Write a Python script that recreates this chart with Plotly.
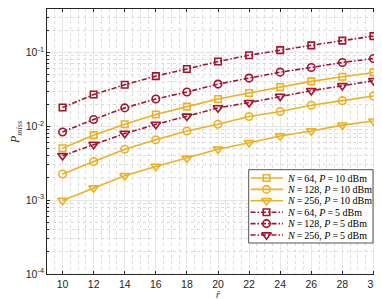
import plotly.graph_objects as go

r_bar = [10, 12, 14, 16, 18, 20, 22, 24, 26, 28, 30]

n64_p10 = [0.00505, 0.0076, 0.0107, 0.0145, 0.0185, 0.0235, 0.0283, 0.0341, 0.0407, 0.047, 0.0538]
n128_p10 = [0.00226, 0.00334, 0.0049, 0.0066, 0.00865, 0.0107, 0.0136, 0.0159, 0.0193, 0.0223, 0.0258]
n256_p10 = [0.00099, 0.00146, 0.00214, 0.00286, 0.0037, 0.0049, 0.006, 0.0074, 0.00865, 0.0104, 0.0118]
n64_p5 = [0.018, 0.027, 0.0366, 0.048, 0.060, 0.0756, 0.092, 0.108, 0.125, 0.145, 0.167]
n128_p5 = [0.0084, 0.0124, 0.0178, 0.0235, 0.0292, 0.0374, 0.0451, 0.0543, 0.0628, 0.0733, 0.083]
n256_p5 = [0.0040, 0.0057, 0.0080, 0.0106, 0.0137, 0.0178, 0.021, 0.0255, 0.0304, 0.0355, 0.0415]

T = "\u2009"
names = [
    f"<i>N</i>{T}={T}64, <i>P</i>{T}={T}10 dBm",
    f"<i>N</i>{T}={T}128, <i>P</i>{T}={T}10 dBm",
    f"<i>N</i>{T}={T}256, <i>P</i>{T}={T}10 dBm",
    f"<i>N</i>{T}={T}64, <i>P</i>{T}={T}5 dBm",
    f"<i>N</i>{T}={T}128, <i>P</i>{T}={T}5 dBm",
    f"<i>N</i>{T}={T}256, <i>P</i>{T}={T}5 dBm",
]
series = [n64_p10, n128_p10, n256_p10, n64_p5, n128_p5, n256_p5]
symbols = ["square-open", "circle-open", "triangle-down-open"] * 2
sizes = [6.5, 7.5, 8.5] * 2
YELLOW = "#EDB120"
RED = "#A2142F"
colors = [YELLOW] * 3 + [RED] * 3
dashes = ["solid"] * 3 + ["5px,2px,1.5px,2px"] * 3
AX = "#262626"
SERIF = "Liberation Serif, DejaVu Serif"

# plot-area geometry in pixels (for placing the hand-made legend)
W, H = 382, 299
ML, MR, MT, MB = 39, 1, 1, 33
PW, PH = W - ML - MR, H - MT - MB


def fx(px):
    return (px - ML) / PW


def fy(py):
    return (H - MB - py) / PH


fig = go.Figure()
for name, ys, sym, sz, col, dash in zip(names, series, symbols, sizes, colors, dashes):
    fig.add_trace(go.Scatter(
        x=r_bar, y=ys, name=name, mode="lines+markers", showlegend=False,
        line=dict(color=col, width=1.6, dash=dash),
        marker=dict(symbol=sym, size=sz, color=col, line=dict(width=1.6, color=col)),
    ))

# legend box (overlay axes in plot-area fractions)
bx0, bx1, by0, by1 = fx(240.7), fx(365), fy(235), fy(161.7)
fig.add_trace(go.Scatter(
    x=[bx0, bx1, bx1, bx0, bx0], y=[by0, by0, by1, by1, by0],
    xaxis="x2", yaxis="y2", mode="lines", fill="toself", fillcolor="white",
    line=dict(color=AX, width=0.8), showlegend=False, hoverinfo="skip",
))
row_top, row_step = 170.0, 11.4
annotations = []
for i, (name, sym, sz, col, dash) in enumerate(zip(names, symbols, sizes, colors, dashes)):
    ry = fy(row_top + i * row_step)
    fig.add_trace(go.Scatter(
        x=[fx(242.5), fx(275)], y=[ry, ry], xaxis="x2", yaxis="y2", mode="lines",
        line=dict(color=col, width=1.6, dash=dash), showlegend=False, hoverinfo="skip",
    ))
    fig.add_trace(go.Scatter(
        x=[fx(258.5)], y=[ry], xaxis="x2", yaxis="y2", mode="markers",
        marker=dict(symbol=sym, size=sz, color=col, line=dict(width=1.6, color=col)),
        showlegend=False, hoverinfo="skip",
    ))
    annotations.append(dict(
        x=fx(276.5), y=ry, xref="paper", yref="paper", text=name, showarrow=False,
        xanchor="left", yanchor="middle", font=dict(family=SERIF, size=10, color="black"),
    ))

annotations.append(dict(
    x=0.5, y=fy(286.5), xref="paper", yref="paper", text="<i>r̄</i>", showarrow=False,
    xanchor="center", yanchor="middle", font=dict(family=SERIF, size=10, color=AX),
))
annotations.append(dict(
    x=fx(8), y=fy(125), xref="paper", yref="paper", text="<i>P</i><sub><i>miss</i></sub>",
    showarrow=False, textangle=-90, xanchor="center", yanchor="middle",
    font=dict(family=SERIF, size=12, color=AX),
))

fig.update_layout(
    width=W, height=H,
    margin=dict(l=ML, r=MR, t=MT, b=MB, autoexpand=False),
    paper_bgcolor="white", plot_bgcolor="white",
    font=dict(family="Liberation Sans, Arial", size=10, color=AX),
    showlegend=False,
    annotations=annotations,
    xaxis=dict(
        range=[9, 31], tickvals=r_bar, automargin=False,
        showline=True, linecolor=AX, linewidth=0.8, mirror="ticks",
        ticks="inside", ticklen=3, tickcolor=AX,
        showgrid=True, gridcolor="#e6e6e6", gridwidth=0.6,
        minor=dict(dtick=0.5, showgrid=True, gridcolor="#dcdcdc", griddash="dot", gridwidth=0.6),
        zeroline=False,
        tickfont=dict(size=10.5, color=AX),
    ),
    yaxis=dict(
        type="log", range=[-4, -0.41], automargin=False,
        tickvals=[1e-4, 1e-3, 1e-2, 1e-1],
        ticktext=["10<sup>-4</sup>", "10<sup>-3</sup>", "10<sup>-2</sup>", "10<sup>-1</sup>"],
        showline=True, linecolor=AX, linewidth=0.8, mirror="ticks",
        ticks="inside", ticklen=3, tickcolor=AX,
        showgrid=True, gridcolor="#e6e6e6", gridwidth=0.6,
        minor=dict(dtick="D1", ticks="inside", ticklen=2, tickcolor=AX, showgrid=True,
                   gridcolor="#dcdcdc", griddash="dot", gridwidth=0.6),
        zeroline=False,
        tickfont=dict(size=10.5, color=AX),
    ),
    xaxis2=dict(overlaying="x", range=[0, 1], visible=False, fixedrange=True, automargin=False),
    yaxis2=dict(overlaying="y", range=[0, 1], visible=False, fixedrange=True, automargin=False),
)
fig.write_html("out.html")
